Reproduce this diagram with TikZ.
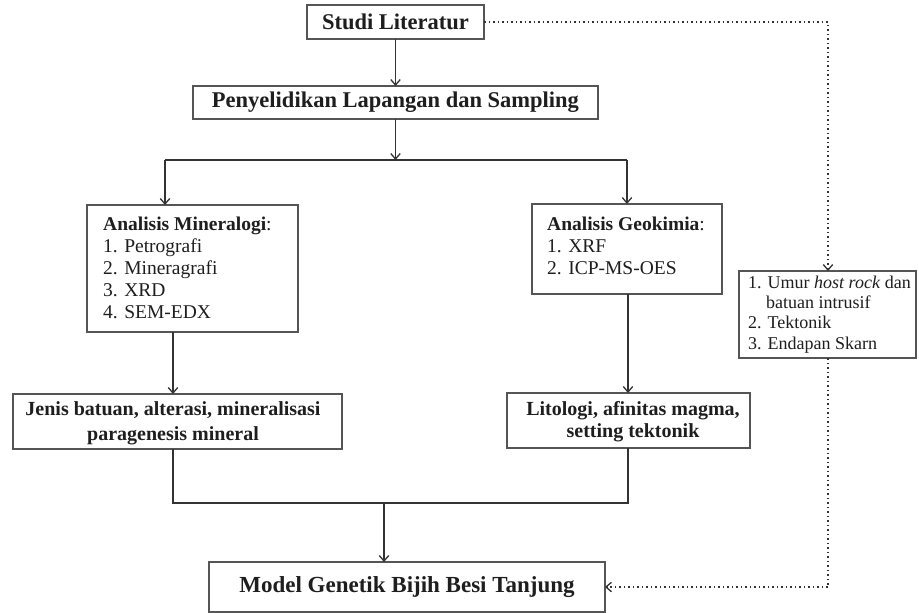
\documentclass[tikz,border=0pt]{standalone}
\usepackage{fontspec}
\setmainfont{Liberation Serif}
\usetikzlibrary{arrows.meta}
\definecolor{txt}{HTML}{1E1E1E}
\definecolor{bord}{HTML}{555555}
\definecolor{conn}{HTML}{333333}
\begin{document}
\begin{tikzpicture}[x=1pt,y=-1pt,
  box/.style={draw=bord,line width=1.4pt,fill=white,inner sep=0pt,outer sep=0pt},
  lbl/.style={text=txt,inner sep=0pt},
  conn/.style={draw=conn,line width=1.6pt},
  arr/.style={conn,-{Straight Barb[length=5.5pt,width=9.5pt,line width=1.3pt]}},
  dot/.style={draw=conn,line width=1.7pt,dash pattern=on 1.5pt off 3pt},
  darr/.style={dot,-{Straight Barb[length=5.5pt,width=9.5pt,line width=1.3pt]}},
]
\useasboundingbox (0,0) rectangle (919,613);

% boxes
\node[box,minimum width=177pt,minimum height=34pt] (studi) at (395.5,22) {};
\node[box,minimum width=405pt,minimum height=33pt] (pen) at (395.5,102.5) {};
\node[box,minimum width=211pt,minimum height=127pt] (min) at (192.5,268.5) {};
\node[box,minimum width=190pt,minimum height=90pt] (geo) at (627,249) {};
\node[box,minimum width=329pt,minimum height=55pt] (jen) at (177.5,421.5) {};
\node[box,minimum width=243pt,minimum height=55pt] (lit) at (628.5,420.5) {};
\node[box,minimum width=396pt,minimum height=50pt] (model) at (407,587) {};
\node[box,minimum width=177pt,minimum height=87pt] (side) at (827.5,314.5) {};

% texts
\node[lbl,font=\fontsize{22.5}{26}\selectfont\bfseries] at (studi) {Studi Literatur};
\node[lbl,font=\fontsize{22.5}{26}\selectfont\bfseries] at (pen) {Penyelidikan Lapangan dan Sampling};
\node[lbl,anchor=north west,align=left,font=\fontsize{19.5}{22}\selectfont] at (103,216.5)
  {\textbf{Analisis Mineralogi}:\\1. Petrografi\\2. Mineragrafi\\3. XRD\\4. SEM-EDX};
\node[lbl,anchor=north west,align=left,font=\fontsize{19.5}{22}\selectfont] at (547,216.5)
  {\textbf{Analisis Geokimia}:\\1. XRF\\2. ICP-MS-OES};
\node[lbl,anchor=north west,align=left,font=\fontsize{18}{20.3}\selectfont] at (748,275.6)
  {1. Umur \textit{host rock} dan\\\hphantom{1.\ }batuan intrusif\\2. Tektonik\\3. Endapan Skarn};
\node[lbl,anchor=north,align=center,font=\fontsize{20}{25}\selectfont\bfseries] at (173,401.2)
  {Jenis batuan, alterasi, mineralisasi\\paragenesis mineral};
\node[lbl,anchor=north,align=center,font=\fontsize{20}{22}\selectfont\bfseries] at (633,401.2)
  {Litologi, afinitas magma,\\setting tektonik};
\node[lbl,font=\fontsize{23}{26}\selectfont\bfseries] at (model) {Model Genetik Bijih Besi Tanjung};

% connectors
\coordinate (jn) at (395.5,160);
\coordinate (jl) at (165,160);
\coordinate (jr) at (627,160);
\coordinate (ml) at (173,0);
\coordinate (gr) at (628,0);
\coordinate (jb) at (384,503);
\coordinate (dx) at (828,0);

\draw[arr] (studi.south) -- (pen.north);
\draw[arr] (pen.south) -- (jn);
\draw[conn] (jl) -- (jr);
\draw[arr] (jl) -- (jl |- min.north);
\draw[arr] (jr) -- (jr |- geo.north);
\draw[arr] (ml |- min.south) -- (ml |- jen.north);
\draw[arr] (gr |- geo.south) -- (gr |- lit.north);
\draw[conn] (ml |- jen.south) -- (ml |- jb) -- (gr |- jb) -- (gr |- lit.south);
\draw[arr] (jb) -- (jb |- model.north);

\draw[darr] (studi.east) -- (dx |- studi.east) -- (dx |- side.north);
\draw[darr] (dx |- side.south) -- (dx |- model.east) -- (model.east);
\end{tikzpicture}
\end{document}
